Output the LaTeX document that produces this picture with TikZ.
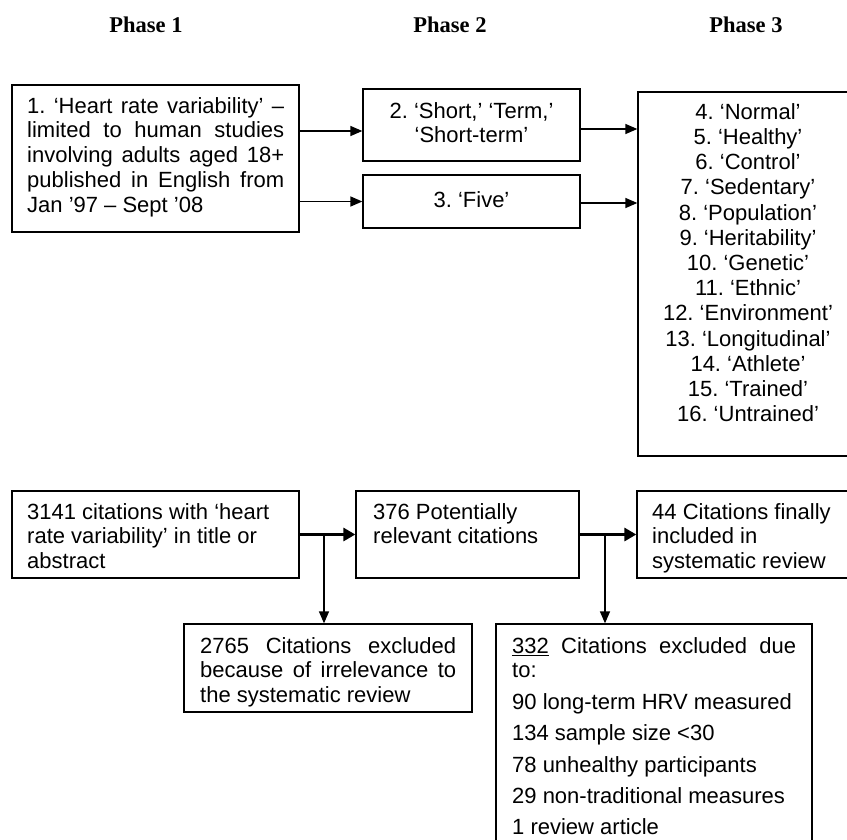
\documentclass[tikz,border=0pt]{standalone}
\usepackage{fontspec}
\setmainfont{Liberation Sans}
\newfontfamily\phasefont{Liberation Serif}
\usetikzlibrary{arrows.meta,fit,calc}
\newcommand{\jl}[2]{\makebox[#1][s]{#2}}
\frenchspacing
\begin{document}
\begin{tikzpicture}[x=1pt,y=-1pt,
  boxstyle/.style={draw, line width=1.3pt, inner sep=0pt},
  txt/.style={inner sep=0pt, font=\fontsize{22}{24.8}\selectfont},
  txtl/.style={txt, anchor=north west, align=left},
  txtc/.style={txt, anchor=north, align=center},
  arr/.style={line width=1.4pt, -{Triangle[length=12pt,width=10pt]}},
  thickarr/.style={line width=3.8pt, -{Triangle[length=12pt,width=13pt]}},
  vline/.style={line width=1.4pt, -{Triangle[length=12pt,width=10pt]}},
  phase/.style={inner sep=0pt, anchor=base, font=\phasefont\bfseries\fontsize{22.5}{27}\selectfont}
]
\useasboundingbox (0,0) rectangle (847,839);
\clip (0,0) rectangle (847,839);
\fill[white] (0,0) rectangle (847,839);

% phase headers
\node[phase] (p1) at (146,32.5) {Phase 1};
\node[phase] (p2) at (450,32.5) {Phase 2};
\node[phase] (p3) at (746,32.5) {Phase 3};

% boxes
\node[boxstyle, fit={(12,85) (299,232)}] (box1) {};
\node[boxstyle, fit={(363,89) (580,161)}] (box2) {};
\node[boxstyle, fit={(363,175) (580,228)}] (five) {};
\node[boxstyle, fit={(638,92) (860,456)}] (box3) {};
\node[boxstyle, fit={(12,491) (299,578)}] (b1) {};
\node[boxstyle, fit={(356,491) (579,578)}] (b2) {};
\node[boxstyle, fit={(637,491) (860,578)}] (b3) {};
\node[boxstyle, fit={(184,624) (472,712)}] (ex1) {};
\node[boxstyle, fit={(496,624) (812,860)}] (ex2) {};

% texts
\node[txtl] (t1) at (27,95.6) {\strut\jl{257pt}{1. ‘Heart rate variability’ –}\\
\jl{257pt}{limited to human studies}\\
\jl{257pt}{involving adults aged 18+}\\
\jl{257pt}{published in English from}\\
Jan ’97 – Sept ’08};
\node[txtc] (t2) at (471.5,100.6) {\strut 2. ‘Short,’ ‘Term,’\\ ‘Short-term’};
\node[txtc] (t3) at (471.5,189.6) {\strut 3. ‘Five’};
\node[txtc, font=\fontsize{22}{25.2}\selectfont] (t4) at (748,101.4) {\strut 4. ‘Normal’\\
5. ‘Healthy’\\
6. ‘Control’\\
7. ‘Sedentary’\\
8. ‘Population’\\
9. ‘Heritability’\\
10. ‘Genetic’\\
11. ‘Ethnic’\\
12. ‘Environment’\\
13. ‘Longitudinal’\\
14. ‘Athlete’\\
15. ‘Trained’\\
16. ‘Untrained’};
\node[txtl] (tb1) at (27,501.6) {\strut 3141 citations with ‘heart\\ rate variability’ in title or\\ abstract};
\node[txtl] (tb2) at (373,501.6) {\strut 376 Potentially\\ relevant citations};
\node[txtl] (tb3) at (652,501.6) {\strut 44 Citations finally\\ included in\\ systematic review};
\node[txtl] (te1) at (200,635.6) {\strut\jl{256pt}{2765 Citations excluded}\\
\jl{256pt}{because of irrelevance to}\\
the systematic review};
\node[txtl] (te2) at (512,635.6) {\strut\jl{284pt}{\underline{332} Citations excluded due}\\
to:\\[6.6pt]
90 long-term HRV measured\\[6.6pt]
134 sample size <30\\[6.6pt]
78 unhealthy participants\\[6.6pt]
29 non-traditional measures\\[6.6pt]
1 review article};

% top connectors
\draw[arr] ([yshift=-6pt]box2.west -| box1.east) -- ([yshift=-6pt]box2.west);
\draw[arr] (five.west -| box1.east) -- (five.west);
\draw[arr] ([yshift=-4pt]box2.east) -- ([yshift=-4pt]box2.east -| box3.west);
\draw[arr] ([yshift=-1.5pt]five.east) -- ([yshift=-1.5pt]five.east -| box3.west);

% bottom connectors
\draw[thickarr] (b1.east) -- (b2.west);
\draw[thickarr] (b2.east) -- (b3.west);
\coordinate (j1) at (324,534.5);
\coordinate (j2) at (605,534.5);
\draw[vline] (j1) -- (j1 |- ex1.north);
\draw[vline] (j2) -- (j2 |- ex2.north);
\end{tikzpicture}
\end{document}
